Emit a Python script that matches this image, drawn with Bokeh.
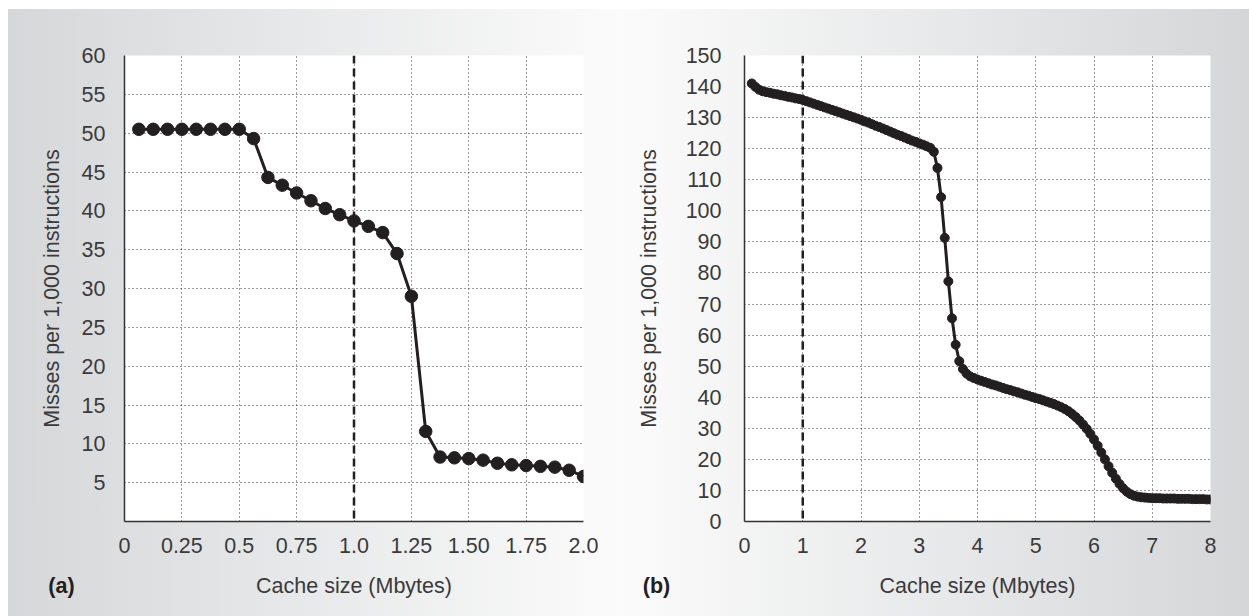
from bokeh.plotting import figure
from bokeh.layouts import row
from bokeh.models import Range1d, FixedTicker, Span, Label
from bokeh.embed import file_html
from bokeh.resources import INLINE

# ---------------- data ----------------
# (a) cache sizes in Mbytes (steps of 1/16 MB) and misses per 1,000 instructions
sizes_a = [k / 16 for k in range(1, 33)]
misses_a = [50.5, 50.5, 50.5, 50.5, 50.5, 50.5, 50.5, 50.5,
            49.3, 44.3, 43.3, 42.3, 41.3, 40.3, 39.5, 38.7,
            38.0, 37.2, 34.5, 29.0, 11.6, 8.3, 8.2, 8.1,
            7.9, 7.5, 7.3, 7.2, 7.1, 7.0, 6.6, 5.8]

# (b) cache sizes from 0.125 to 8 Mbytes (steps of 1/16 MB)
sizes_b = [k / 16 for k in range(2, 129)]
misses_b = (
    [141.0, 139.9, 139.0, 138.5, 138.2, 138.0, 137.7, 137.5,
     137.2, 137.0, 136.7, 136.5, 136.2, 136.0, 135.7] +
    [135.3, 134.9, 134.5, 134.1, 133.7, 133.3, 132.9, 132.5,
     132.1, 131.7, 131.3, 130.9, 130.5, 130.1, 129.7, 129.3] +
    [128.8, 128.4, 127.9, 127.4, 127.0, 126.5, 126.0, 125.5,
     125.0, 124.5, 124.1, 123.6, 123.1, 122.6, 122.2, 121.7] +
    [121.3, 120.8, 120.3, 119.0, 113.8, 104.4, 91.3, 77.3,
     65.4, 56.9, 51.6, 49.1, 47.6, 46.7, 46.2, 45.7] +
    [45.3, 44.9, 44.5, 44.1, 43.8, 43.4, 43.0, 42.6,
     42.3, 41.9, 41.6, 41.2, 40.8, 40.5, 40.1, 39.7] +
    [39.4, 39.0, 38.6, 38.2, 37.8, 37.3, 36.8, 36.2,
     35.5, 34.6, 33.6, 32.5, 31.2, 29.8, 28.2, 26.4] +
    [24.4, 22.2, 20.0, 17.8, 15.7, 13.8, 12.1, 10.7,
     9.6, 8.8, 8.3, 8.0, 7.8, 7.7, 7.6, 7.5] +
    [7.5, 7.5, 7.4, 7.4, 7.4, 7.4, 7.3, 7.3,
     7.3, 7.3, 7.2, 7.2, 7.2, 7.2, 7.1, 7.1]
)

xticks_a = [0, 0.25, 0.5, 0.75, 1.0, 1.25, 1.5, 1.75, 2.0]
xtick_labels_a = ["0", "0.25", "0.5", "0.75", "1.0", "1.25", "1.50", "1.75", "2.0"]
yticks_a = [5, 10, 15, 20, 25, 30, 35, 40, 45, 50, 55, 60]
xticks_b = [0, 1, 2, 3, 4, 5, 6, 7, 8]
yticks_b = [0, 10, 20, 30, 40, 50, 60, 70, 80, 90, 100, 110, 120, 130, 140, 150]

x_title = "Cache size (Mbytes)"
y_title = "Misses per 1,000 instructions"
panel_tags = ["(a)", "(b)"]

INK = "#231f20"
TXT = "#3a3a3a"
FONT = "Liberation Sans"
FS = "21.5px"


def make_fig(width, frame_w, xr, yr, xticks, yticks, tick_standoff, label_standoff, bg):
    p = figure(width=width, height=616, output_backend="svg", toolbar_location=None,
               x_range=Range1d(*xr), y_range=Range1d(*yr),
               min_border_left=124, min_border_top=55, min_border_bottom=95,
               min_border_right=width - 124 - frame_w,
               frame_width=frame_w, frame_height=466)
    p.background_fill_color = "white"
    p.border_fill_color = None
    p.outline_line_color = None
    p.styles = {"background": bg}
    p.xaxis.ticker = FixedTicker(ticks=xticks)
    p.yaxis.ticker = FixedTicker(ticks=yticks)
    for ax in (p.xaxis[0], p.yaxis[0]):
        ax.axis_line_color = "#333333"
        ax.axis_line_width = 1.5
        ax.major_tick_out = 0
        ax.major_tick_in = 0
        ax.minor_tick_out = 0
        ax.minor_tick_in = 0
        ax.major_label_text_font = FONT
        ax.major_label_text_font_size = FS
        ax.major_label_text_color = TXT
        ax.axis_label_text_font = FONT
        ax.axis_label_text_font_size = FS
        ax.axis_label_text_font_style = "normal"
        ax.axis_label_text_color = TXT
    p.xaxis.axis_label = x_title
    p.yaxis.axis_label = y_title
    p.xaxis.major_label_standoff = 16
    p.xaxis.axis_label_standoff = 18
    p.yaxis.major_label_standoff = tick_standoff
    p.yaxis.axis_label_standoff = label_standoff
    for g in (p.xgrid[0], p.ygrid[0]):
        g.grid_line_color = "#3a3a3a"
        g.grid_line_width = 1
        g.grid_line_dash = "1 3"
    return p


def add_tag(p, text, cx):
    p.add_layout(Label(x=cx, y=585, x_units="canvas", y_units="canvas", text=text,
                       text_font=FONT, text_font_size=FS, text_font_style="bold",
                       text_color=INK, text_align="center", text_baseline="middle"),
                 "below")


bg_a = ("linear-gradient(to bottom, #ffffff 0px, #ffffff 9px, rgba(255,255,255,0) 9px), "
        "linear-gradient(to right, #ffffff 0px, #ffffff 8px, #d6d7d9 8px, #e6e7e8 45%, #fbfbfb 100%)")
bg_b = ("linear-gradient(to bottom, #ffffff 0px, #ffffff 9px, rgba(255,255,255,0) 9px), "
        "linear-gradient(to right, #fbfbfb 0%, #e6e7e8 55%, #d5d6d8 100%)")

# ---------------- (a) ----------------
pa = make_fig(620, 459, (0, 2.0), (0, 60), xticks_a, yticks_a, 19, 15, bg_a)
pa.xaxis.major_label_overrides = {t: s for t, s in zip(xticks_a, xtick_labels_a)}
pa.add_layout(Span(location=1.0, dimension="height", line_color=INK,
                   line_width=2.5, line_dash="8 5"))
pa.line(sizes_a, misses_a, line_color=INK, line_width=3)
pa.scatter(sizes_a, misses_a, size=12.5, marker="circle",
           fill_color=INK, line_color=INK)
add_tag(pa, panel_tags[0], 61)

# ---------------- (b) ----------------
pb = make_fig(629, 466, (0, 8), (0, 150), xticks_b, yticks_b, 23, 22, bg_b)
pb.add_layout(Span(location=1.0, dimension="height", line_color=INK,
                   line_width=2.5, line_dash="8 5"))
pb.line(sizes_b, misses_b, line_color=INK, line_width=3)
pb.scatter(sizes_b, misses_b, size=9, marker="circle",
           fill_color=INK, line_color=INK)
add_tag(pb, panel_tags[1], 36)

layout = row(pa, pb, spacing=0)
open("out.html", "w").write(file_html(layout, INLINE))
